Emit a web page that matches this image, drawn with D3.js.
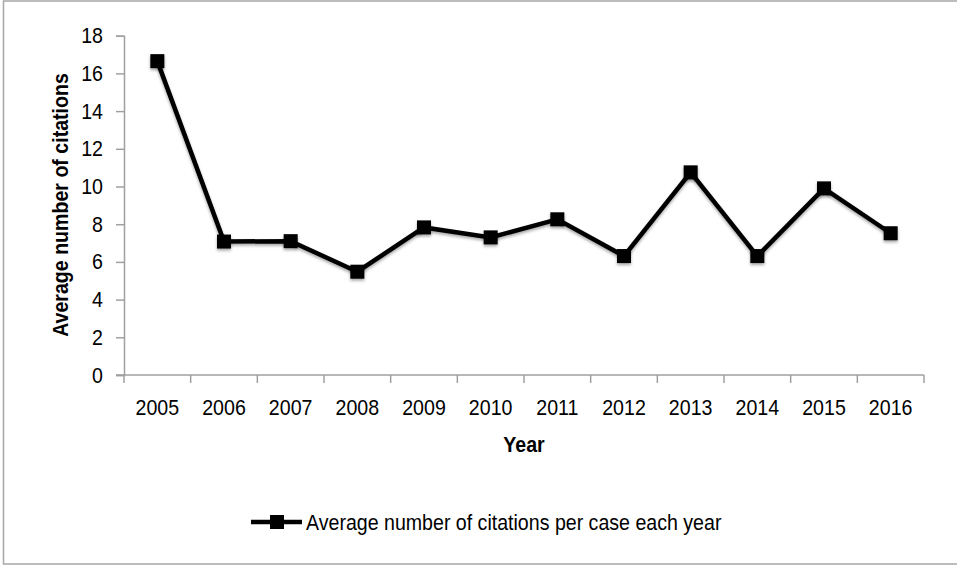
<!DOCTYPE html>
<html>
<head>
<meta charset="utf-8">
<script src="https://cdn.jsdelivr.net/npm/d3@7"></script>
<style>
  html, body { margin: 0; padding: 0; background: #fff; }
  svg { display: block; }
  text { font-family: "Liberation Sans Narrow", "Arial Narrow", "Liberation Sans", Arial, sans-serif; fill: #000; }
</style>
</head>
<body>
<script>
const years = ["2005","2006","2007","2008","2009","2010","2011","2012","2013","2014","2015","2016"];
const citations = [16.65, 7.08, 7.1, 5.48, 7.83, 7.3, 8.26, 6.31, 10.75, 6.31, 9.9, 7.52];
const yTicks = [0, 2, 4, 6, 8, 10, 12, 14, 16, 18];
const seriesName = "Average number of citations per case each year";
const xTitle = "Year";
const yTitle = "Average number of citations";

const W = 957, H = 565;
const margin = { left: 124, right: 33, top: 35.7, bottom: 190 };

const svg = d3.select("body").append("svg").attr("width", W).attr("height", H);

const defs = svg.append("defs");
const f = defs.append("filter").attr("id", "shadow").attr("x", "-50%").attr("y", "-50%").attr("width", "200%").attr("height", "200%");
f.append("feDropShadow").attr("dx", 0).attr("dy", 2).attr("stdDeviation", 1.5).attr("flood-color", "#000").attr("flood-opacity", 0.35);
const g2 = defs.append("filter").attr("id", "gshadow").attr("x", "-5%").attr("y", "-200%").attr("width", "110%").attr("height", "500%");
g2.append("feDropShadow").attr("dx", 0).attr("dy", 1).attr("stdDeviation", 0.6).attr("flood-color", "#000").attr("flood-opacity", 0.25);

// outer border
svg.append("rect").attr("x", 3.5).attr("y", 1).attr("width", W - 2).attr("height", 563)
  .attr("fill", "none").attr("stroke", "#a6a6a6").attr("stroke-width", 1.5);

const x = d3.scaleBand().domain(years).range([margin.left, W - margin.right]).padding(0);
const y = d3.scaleLinear().domain([0, 18]).range([375, margin.top]);

// gridlines
svg.append("g").selectAll("line").data(yTicks.filter(d => d > 0)).join("line")
  .attr("x1", margin.left).attr("x2", W - margin.right)
  .attr("y1", d => y(d)).attr("y2", d => y(d))
  .attr("stroke", "#9a9a9a").attr("stroke-width", 1.5).attr("filter", "url(#gshadow)");

// y axis
const yAxis = svg.append("g").attr("transform", `translate(${margin.left},0)`)
  .call(d3.axisLeft(y).tickValues(yTicks).tickSize(8).tickPadding(13));
yAxis.select(".domain").attr("stroke", "#a0a0a0").attr("stroke-width", 1.5);
yAxis.selectAll(".tick line").attr("stroke", "#a0a0a0").attr("stroke-width", 1.5);
yAxis.selectAll(".tick text").attr("font-size", 22).attr("font-family", "Liberation Sans Narrow, Arial Narrow, Liberation Sans, sans-serif").attr("fill", "#000");

// x axis
const boundaries = years.map(d => x(d)).concat([W - margin.right]);
svg.append("line").attr("x1", margin.left - 8).attr("x2", W - margin.right)
  .attr("y1", y(0)).attr("y2", y(0)).attr("stroke", "#a0a0a0").attr("stroke-width", 1.5);
svg.append("g").selectAll("line").data(boundaries).join("line")
  .attr("x1", d => d).attr("x2", d => d).attr("y1", y(0)).attr("y2", y(0) + 8)
  .attr("stroke", "#a0a0a0").attr("stroke-width", 1.5);
svg.append("g").selectAll("text").data(years).join("text")
  .attr("x", d => x(d) + x.bandwidth() / 2).attr("y", 407)
  .attr("text-anchor", "middle").attr("dominant-baseline", "central")
  .attr("font-size", 22).text(d => d);

// axis titles
svg.append("text").attr("x", 524).attr("y", 444).attr("text-anchor", "middle")
  .attr("dominant-baseline", "central").attr("font-size", 22).attr("font-weight", "bold").text(xTitle);
svg.append("text").attr("transform", `translate(60,205) rotate(-90)`).attr("text-anchor", "middle")
  .attr("dominant-baseline", "central").attr("font-size", 22).attr("font-weight", "bold").text(yTitle);

// line series
const cx = d => x(d) + x.bandwidth() / 2;
const data = years.map((yr, i) => ({ yr, v: citations[i] }));
svg.append("path").datum(data)
  .attr("d", d3.line().x(d => cx(d.yr)).y(d => y(d.v)))
  .attr("fill", "none").attr("stroke", "#000").attr("stroke-width", 4.5)
  .attr("stroke-linejoin", "miter").attr("filter", "url(#shadow)");
const ms = 14;
svg.append("g").selectAll("rect").data(data).join("rect")
  .attr("x", d => cx(d.yr) - ms / 2).attr("y", d => y(d.v) - ms / 2)
  .attr("width", ms).attr("height", ms).attr("fill", "#000").attr("filter", "url(#shadow)");

// legend
const ly = 522;
svg.append("line").attr("x1", 251).attr("x2", 302).attr("y1", ly).attr("y2", ly)
  .attr("stroke", "#000").attr("stroke-width", 4.5);
svg.append("rect").attr("x", 277 - 7).attr("y", ly - 7).attr("width", 14).attr("height", 14).attr("fill", "#000");
svg.append("text").attr("x", 306).attr("y", ly).attr("dominant-baseline", "central")
  .attr("font-size", 22).text(seriesName);

// condense text horizontally to mimic the narrow font of the original
svg.selectAll("text").each(function () {
  const len = this.getComputedTextLength();
  if (len > 0) {
    this.setAttribute("textLength", (len * 0.89).toFixed(1));
    this.setAttribute("lengthAdjust", "spacingAndGlyphs");
  }
});
</script>
</body>
</html>
